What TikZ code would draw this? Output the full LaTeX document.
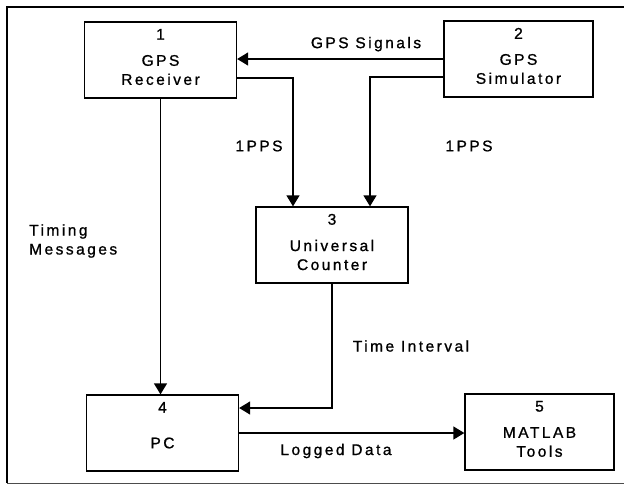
\documentclass[tikz,border=0pt]{standalone}
\usepackage{fontspec}
\setmainfont{Liberation Sans}[LetterSpace=16,FakeBold=1]
\usetikzlibrary{arrows.meta}

\tikzset{
  blk/.style={draw,line width=1.3pt,minimum width=152pt,minimum height=76pt,inner sep=0pt},
  num/.style={inner sep=0pt},
  txt/.style={align=center,inner sep=0pt},
  lbl/.style={inner sep=0pt},
  flow/.style={line width=1.3pt,-{Triangle[width=13pt,length=11pt]}}
}

\begin{document}
\begin{tikzpicture}[x=1pt,y=-1pt,font=\fontsize{15.5}{19}\selectfont]
    \useasboundingbox (0,0) rectangle (624,485);
    % outer frame, cut off at the right
    \draw[line width=2.6pt] (640,7) -- (7,7) -- (7,483);
    \draw[line width=1pt,black!70] (7,483) -- (640,483);

    % the five units
    \node[blk] (rcv) at (160.5,60) {};
    \node[num] (rcvn) at ([yshift=-13]rcv.north) {1};
    \node[txt] (rcvt) at ([yshift=-10]rcv.center) {GPS\\Receiver};

    \node[blk,minimum width=149pt] (sim) at (518.5,59) {};
    \node[num] (simn) at ([yshift=-13]sim.north) {2};
    \node[txt] (simt) at ([yshift=-10]sim.center) {GPS\\Simulator};

    \node[blk] (ctr) at (332,245) {};
    \node[num] (ctrn) at ([yshift=-13]ctr.north) {3};
    \node[txt] (ctrt) at ([yshift=-10]ctr.center) {Universal\\Counter};

    \node[blk] (pc) at (162.5,433) {};
    \node[num] (pcn) at ([yshift=-13]pc.north) {4};
    \node[txt] (pct) at ([yshift=-10]pc.center) {PC};

    \node[blk,minimum width=149pt] (mat) at (539.5,432) {};
    \node[num] (matn) at ([yshift=-13]mat.north) {5};
    \node[txt] (matt) at ([yshift=-10]mat.center) {MATLAB\\Tools};

    % signal paths
    \draw[flow] (sim.west) -- (sim.west -| rcv.east)
      node[lbl,pos=0.375,above=7pt] (sig) {GPS Signals};
    \draw[flow] ([yshift=-18]rcv.east) -| ([xshift=-39]ctr.north);
    \draw[flow] ([yshift=-18]sim.west) -| ([xshift=38]ctr.north);
    \draw[flow] (rcv.south) -- (rcv.south |- pc.north);
    \draw[flow] (ctr.south) |- ([yshift=25]pc.east);
    \draw[flow] (pc.east) -- (pc.east -| mat.west);

    % path labels
    \node[lbl] (ppsa) at (259,146) {1PPS};
    \node[lbl] (ppsb) at (469,146) {1PPS};
    \node[lbl,anchor=west,align=left] (tmsg) at (29,241) {Timing\\Messages};
    \node[lbl] (tint) at (411,346) {Time Interval};
    \node[lbl] (logd) at (336,451) {Logged Data};
\end{tikzpicture}
\end{document}
